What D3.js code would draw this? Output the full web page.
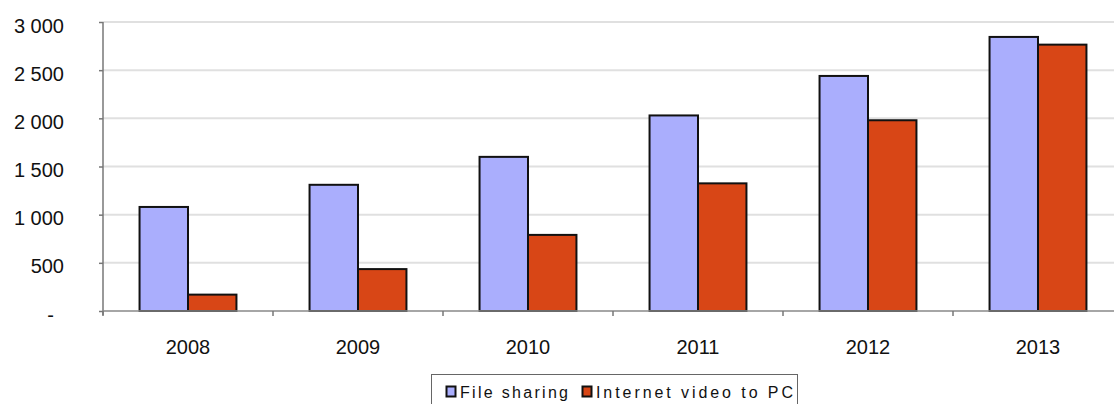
<!DOCTYPE html>
<html>
<head>
<meta charset="utf-8">
<script src="https://cdn.jsdelivr.net/npm/d3@7"></script>
<style>
  html, body { margin: 0; padding: 0; background: #fff; }
  svg { display: block; font-family: Arial, "Liberation Sans", sans-serif; }
</style>
</head>
<body>
<svg id="chart" width="1114" height="404"></svg>
<script>
// Yearly traffic by application
const years = ["2008", "2009", "2010", "2011", "2012", "2013"];
const seriesNames = ["File sharing", "Internet video to PC"];
const fileSharing = [1080, 1310, 1600, 2030, 2440, 2845];
const internetVideo = [170, 435, 790, 1325, 1980, 2765];
const yTicks = [0, 500, 1000, 1500, 2000, 2500, 3000];
const colors = ["#aaaefd", "#d84616"];

const seriesValues = [fileSharing, internetVideo];
const rows = years.map((yr, i) => ({ year: yr, values: seriesValues.map(s => s[i]) }));

const svg = d3.select("#chart");
const plotLeft = 103, plotRight = 1123, plotTop = 22, plotBottom = 311;

const x0 = d3.scaleBand().domain(years).range([plotLeft, plotRight])
  .paddingInner(0.43).paddingOuter(0.215);
const x1 = d3.scaleBand().domain(d3.range(seriesNames.length)).range([0, x0.bandwidth()]);
const y = d3.scaleLinear().domain([0, 3000]).range([plotBottom, plotTop]);

// horizontal gridlines
svg.append("g").selectAll("line").data(yTicks.slice(1)).join("line")
  .attr("x1", plotLeft).attr("x2", 1114)
  .attr("y1", d => y(d)).attr("y2", d => y(d))
  .attr("stroke", "#e0e0e0").attr("stroke-width", 2);

// bars
const groups = svg.append("g").selectAll("g").data(rows).join("g")
  .attr("transform", d => `translate(${x0(d.year)},0)`);
groups.selectAll("rect").data(d => d.values.map((v, k) => ({ v, k }))).join("rect")
  .attr("x", d => x1(d.k))
  .attr("y", d => y(d.v))
  .attr("width", x1.bandwidth())
  .attr("height", d => y(0) - y(d.v))
  .attr("fill", d => colors[d.k])
  .attr("stroke", "#111").attr("stroke-width", 2);

// y axis
const yAxis = svg.append("g").attr("transform", `translate(${plotLeft},0)`)
  .call(d3.axisLeft(y).tickValues(yTicks).tickSize(4).tickPadding(35)
    .tickFormat(d => d === 0 ? "-" : d3.format(",")(d).replace(/,/g, " ")));
yAxis.select(".domain").attr("stroke", "#777").attr("stroke-width", 1.5)
  .attr("d", `M0,${plotTop}V${plotBottom + 4}`);
yAxis.selectAll(".tick line").attr("stroke", "#777").attr("stroke-width", 1.5);
yAxis.selectAll(".tick text")
  .attr("font-size", 20).attr("fill", "#111").attr("dy", "0.5em")
  .attr("dx", d => d === 0 ? -10 : 0);

// x axis
const xAxis = svg.append("g").attr("transform", `translate(0,${plotBottom})`);
xAxis.append("line").attr("x1", plotLeft).attr("x2", 1114).attr("y1", 0).attr("y2", 0)
  .attr("stroke", "#888").attr("stroke-width", 1.5);
const boundaries = years.map(yr => x0(yr) - x0.step() * x0.paddingOuter()).concat([plotRight]);
xAxis.selectAll("line.tick").data(boundaries).join("line").attr("class", "tick")
  .attr("x1", d => d).attr("x2", d => d).attr("y1", 0).attr("y2", 5)
  .attr("stroke", "#777").attr("stroke-width", 1.5);
xAxis.selectAll("text").data(years).join("text")
  .attr("x", d => x0(d) + x0.bandwidth() / 2).attr("y", 43)
  .attr("text-anchor", "middle").attr("font-size", 20).attr("fill", "#111")
  .text(d => d);

// legend
const legend = svg.append("g");
legend.append("rect").attr("x", 431.5).attr("y", 374.5).attr("width", 366).attr("height", 40)
  .attr("fill", "#fff").attr("stroke", "#666").attr("stroke-width", 1);
const legendItems = [
  { name: seriesNames[0], mx: 446, tx: 460, w: 108 },
  { name: seriesNames[1], mx: 582, tx: 596, w: 197 }
];
legendItems.forEach((it, k) => {
  legend.append("rect").attr("x", it.mx + 0.5).attr("y", 386.5).attr("width", 9).attr("height", 10)
    .attr("fill", colors[k]).attr("stroke", "#111").attr("stroke-width", 2);
  legend.append("text").attr("x", it.tx).attr("y", 398)
    .attr("font-size", 16).attr("fill", "#111")
    .attr("textLength", it.w).attr("lengthAdjust", "spacing")
    .text(it.name);
});
</script>
</body>
</html>
